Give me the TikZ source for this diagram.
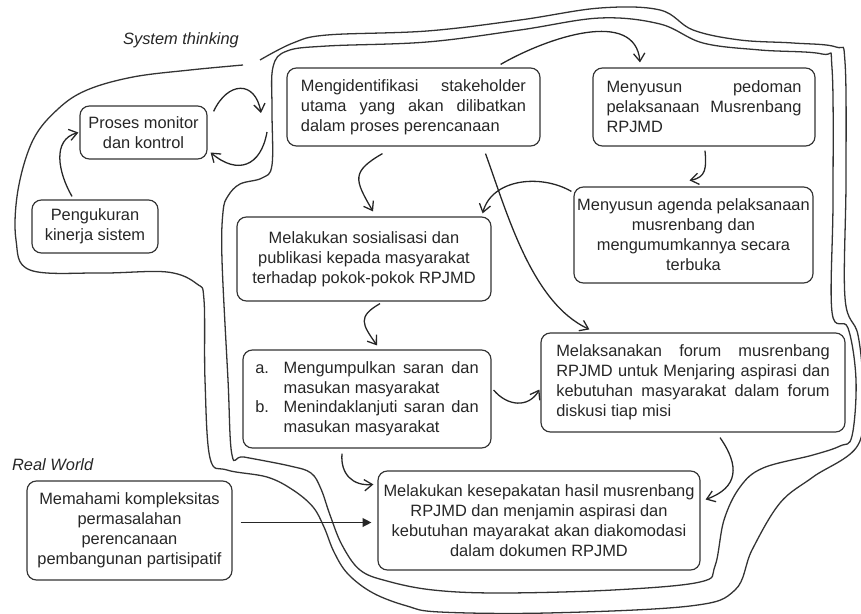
\documentclass[tikz,border=0pt]{standalone}
\usepackage{fontspec}
\setmainfont{Liberation Sans}
\usetikzlibrary{arrows.meta}

\begin{document}
\begin{tikzpicture}[x=0.03cm, y=-0.03cm,
    box/.style={draw=black!80, line width=1pt, rounded corners=8pt, inner sep=2pt,
      text=black!85, font=\fontsize{14}{17}\selectfont},
    lbl/.style={text=black!85, font=\itshape\fontsize{14}{17}\selectfont},
    arr/.style={-{Straight Barb[length=2.4mm,width=3.4mm]}, line width=1.1pt, black!85},
    rim/.style={line width=1.1pt, black!80}]
  \useasboundingbox (0,0) rectangle (861,614);

  \draw[rim] plot[smooth, tension=0.6] coordinates {(260,60) (293,43) (327,35) (427,31)
    (520,20) (600,8) (660,10) (693,30) (740,40) (793,43) (836,47) (845,62) (846,180)
    (845,298) (858,335) (863,390) (858,445) (813,477) (780,503) (752,550) (735,590)
    (690,606) (547,613) (440,612) (407,606) (373,593) (348,574) (334,552) (324,527)
    (313,507) (293,490) (267,477) (227,470) (210,458) (205,380) (204,300) (197,284)
    (167,272) (100,273) (30,270) (16,240) (18,190) (33,140) (58,109) (87,90) (133,77)
    (190,70) (243,65)};
  \draw[rim] plot[smooth cycle, tension=0.6] coordinates {(273,67) (287,51) (327,46)
    (427,42) (520,30) (600,18) (660,24) (703,43) (760,50) (822,54) (832,68) (833,200)
    (832,312) (848,328) (856,380) (852,436) (840,446) (813,455) (763,468) (740,487)
    (724,520) (715,566) (700,582) (613,590) (500,593) (433,590) (387,581) (360,570)
    (342,545) (330,515) (321,489) (311,473) (290,466) (244,457) (232,455) (228,380)
    (222,260) (223,212) (228,196) (240,184) (262,178) (272,165) (272,110)};

  \node[lbl] (sys) at (181,40) {System thinking};
  \node[lbl, anchor=west] (real) at (8,465) {Real World};

  \node[box, minimum width=3.81cm, minimum height=1.59cm, align=center] (mon) at (143.5,132.5)
    {Proses monitor\\dan kontrol};
  \node[box, minimum width=3.78cm, minimum height=1.59cm, align=center] (ukur) at (95,226.5)
    {Pengukuran\\kinerja sistem};
  \node[box, minimum width=7.59cm, minimum height=2.34cm, text width=6.75cm, align=justify] (ident) at (413.5,107)
    {Mengidentifikasi stakeholder\linebreak utama yang akan dilibatkan\linebreak dalam proses perencanaan};
  \node[box, minimum width=6.66cm, minimum height=2.34cm, text width=5.85cm, align=justify] (pedoman) at (704,107)
    {Menyusun pedoman\linebreak pelaksanaan Musrenbang\linebreak RPJMD};
  \node[box, minimum width=7.17cm, minimum height=2.88cm, align=center] (agenda) at (693.5,235)
    {Menyusun agenda pelaksanaan\\musrenbang dan\\mengumumkannya secara\\terbuka};
  \node[box, minimum width=7.62cm, minimum height=2.52cm, align=center] (sos) at (364,259)
    {Melakukan sosialisasi dan\\publikasi kepada masyarakat\\terhadap pokok-pokok RPJMD};
  \node[box, minimum width=7.44cm, minimum height=2.94cm] (saran) at (367,399)
    {\begin{tabular}{@{}p{0.85cm}@{}p{5.85cm}@{}}
      a. & Mengumpulkan saran dan\linebreak masukan masyarakat\\
      b. & Menindaklanjuti saran dan\linebreak masukan masyarakat
    \end{tabular}};
  \node[box, minimum width=9.12cm, minimum height=2.97cm, text width=8.2cm, align=justify] (forum) at (693,382.5)
    {Melaksanakan forum musrenbang\linebreak RPJMD untuk Menjaring aspirasi dan\linebreak
     kebutuhan masyarakat dalam forum\linebreak diskusi tiap misi};
  \node[box, minimum width=9.66cm, minimum height=2.97cm, align=center] (sepakat) at (539,520.5)
    {Melakukan kesepakatan hasil musrenbang\\RPJMD dan menjamin aspirasi dan\\
     kebutuhan mayarakat akan diakomodasi\\dalam dokumen RPJMD};
  \node[box, minimum width=6.15cm, minimum height=2.97cm, align=center] (paham) at (129.5,530.5)
    {Memahami kompleksitas\\permasalahan\\perencanaan\\pembangunan partisipatif};

  \coordinate (fbin) at (261,113);
  \coordinate (fbout) at (267,132);

  \draw[arr] ([shift={(-23,-3)}]ukur.north) to[out=120, in=195, looseness=1.1] ([shift={(-1,0)}]mon.west);
  \draw[arr] ([shift={(6,6)}]mon.north east) to[out=65, in=100, looseness=1.8] (fbin);
  \draw[arr] (fbout) to[out=-100, in=-40, looseness=1.5] ([shift={(3,20)}]mon.east);
  \draw[arr] ([shift={(-40,-3)}]ident.north east) to[out=30, in=95] ([shift={(-64,-5)}]pedoman.north);
  \draw[arr] ([shift={(-31,7)}]ident.south) to[out=-150, in=120, looseness=1.6] ([shift={(9,-5)}]sos.north);
  \draw[arr] ([shift={(1,4)}]pedoman.south) to[out=-85, in=10, looseness=1.3] ([shift={(-4,-6)}]agenda.north);
  \draw[arr] ([shift={(-2,5)}]agenda.north west) to[out=150, in=75] ([shift={(-9,-3)}]sos.north east);
  \draw[arr] ([shift={(72,7)}]ident.south) to[out=-70, in=155, looseness=0.8] ([shift={(49,-3)}]forum.north west);
  \draw[arr] ([shift={(16,2)}]sos.south) to[out=-150, in=125, looseness=1.6] ([shift={(10,-4)}]saran.north);
  \draw[arr] ([shift={(2,-9)}]saran.east) to[out=-50, in=-120, looseness=1.2] ([shift={(-1,7)}]forum.west);
  \draw[arr] ([shift={(-25,5)}]saran.south) to[out=-95, in=185, looseness=1.2] ([shift={(-4,14)}]sepakat.north west);
  \draw[arr] ([shift={(27,5)}]forum.south) to[out=-55, in=20, looseness=1.4] ([shift={(5,-21)}]sepakat.east);
  \draw[line width=1.1pt, black!85, -{Triangle[length=2.6mm,width=2.6mm]}]
    ([shift={(8,-8)}]paham.east) -- ([shift={(-6,2)}]sepakat.west);
\end{tikzpicture}
\end{document}
